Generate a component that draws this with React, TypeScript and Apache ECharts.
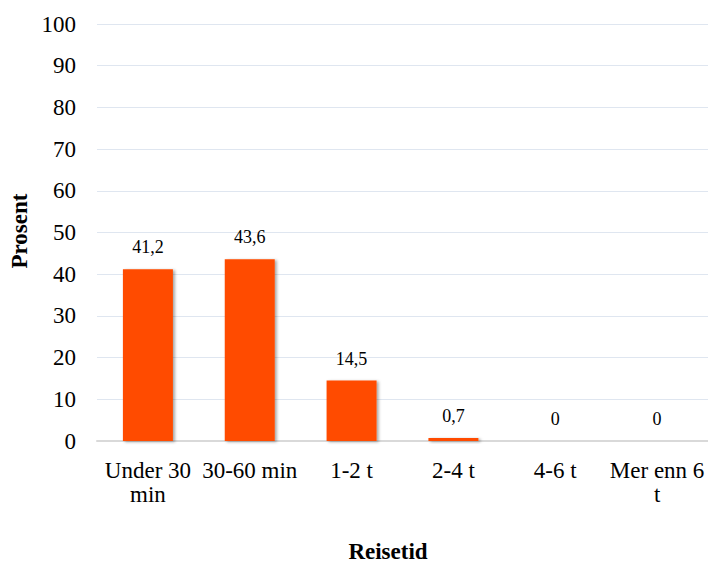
import React, { useEffect, useRef } from "react";
import * as echarts from "echarts";

const categories = ["Under 30\nmin", "30-60 min", "1-2 t", "2-4 t", "4-6 t", "Mer enn 6\nt"];
const values = [41.2, 43.6, 14.5, 0.7, 0, 0];
const yTicks = { min: 0, max: 100, interval: 10 };
const xTitle = "Reisetid";
const yTitle = "Prosent";

const FONT = "'Liberation Serif', 'Times New Roman', serif";

export default function App() {
  const ref = useRef<HTMLDivElement>(null);
  useEffect(() => {
    if (!ref.current) return;
    const chart = echarts.init(ref.current, null, { renderer: "svg" });
    chart.setOption({
      animation: false,
      backgroundColor: "#ffffff",
      grid: { left: 97, right: 0, top: 24, bottom: 122, containLabel: false },
      xAxis: {
        type: "category",
        data: categories,
        axisLine: { show: true, lineStyle: { color: "#d9d9d9", width: 2 } },
        axisTick: { show: false },
        axisLabel: {
          fontFamily: FONT,
          fontSize: 23,
          color: "#000",
          margin: 17,
          lineHeight: 24,
          verticalAlign: "top",
          interval: 0,
        },
      },
      yAxis: {
        type: "value",
        min: yTicks.min,
        max: yTicks.max,
        interval: yTicks.interval,
        axisLine: { show: false },
        axisTick: { show: false },
        splitLine: { lineStyle: { color: "#dfe6f0", width: 1 } },
        axisLabel: {
          fontFamily: FONT,
          fontSize: 23,
          color: "#000",
          margin: 21,
        },
      },
      graphic: [
        {
          type: "text",
          x: 19,
          y: 231,
          rotation: Math.PI / 2,
          style: {
            text: yTitle,
            font: `bold 23px ${FONT}`,
            fill: "#000",
            align: "center",
            verticalAlign: "middle",
          },
        },
        {
          type: "text",
          x: 388,
          y: 551,
          style: {
            text: xTitle,
            font: `bold 23px ${FONT}`,
            fill: "#000",
            align: "center",
            verticalAlign: "middle",
          },
        },
      ],
      series: [
        {
          type: "bar",
          data: values,
          barWidth: 50,
          itemStyle: {
            color: "#ff4c00",
            shadowColor: "rgba(0,0,0,0.35)",
            shadowBlur: 3,
            shadowOffsetX: 2,
            shadowOffsetY: 1,
          },
          label: {
            show: true,
            position: "top",
            distance: 13,
            fontFamily: FONT,
            fontSize: 18,
            color: "#000",
            formatter: (p: any) => String(p.value).replace(".", ","),
          },
        },
      ],
    });
    return () => chart.dispose();
  }, []);
  return <div ref={ref} style={{ width: 708, height: 563, position: "absolute", left: 0, top: 0 }} />;
}
